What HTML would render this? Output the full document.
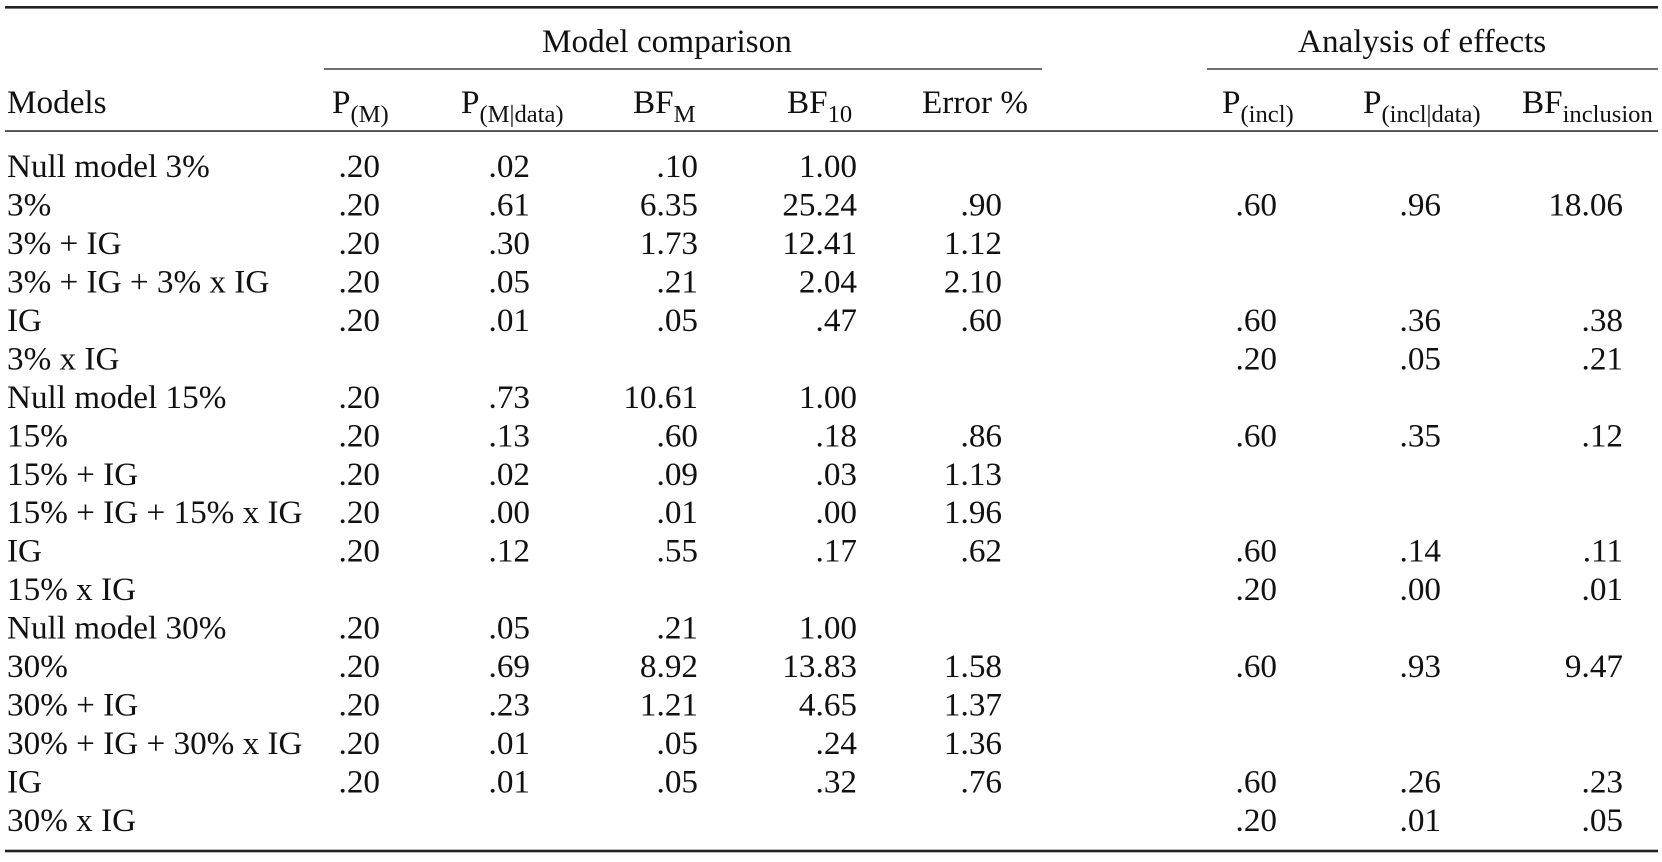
<!DOCTYPE html>
<html><head><meta charset="utf-8"><style>
html,body{margin:0;padding:0;background:#fff;}
svg{display:block;}
text{font-family:"Liberation Serif","Times New Roman",serif;fill:#111;font-size:33.2px;}
.s{font-size:24.6px;}
</style></head><body>
<svg width="1662" height="862" viewBox="0 0 1662 862" xmlns="http://www.w3.org/2000/svg">
<rect x="0" y="0" width="1662" height="862" fill="#fff"/>
<rect x="5" y="6" width="1653" height="2.6" fill="#222"/>
<rect x="324" y="68.3" width="718" height="1.4" fill="#333"/>
<rect x="1207" y="68.3" width="451" height="1.4" fill="#333"/>
<rect x="5" y="130.3" width="1653" height="1.5" fill="#222"/>
<rect x="5" y="849.7" width="1653" height="2.6" fill="#222"/>

<text x="542" y="52">Model comparison</text>
<text x="1298" y="52">Analysis of effects</text>

<text x="7" y="113">Models</text>
<text x="332" y="113">P<tspan class="s" dy="9">(M)</tspan></text>
<text x="461" y="113">P<tspan class="s" dy="9">(M|data)</tspan></text>
<text x="633" y="113">BF<tspan class="s" dy="9">M</tspan></text>
<text x="787" y="113">BF<tspan class="s" dy="9">10</tspan></text>
<text x="922" y="113">Error %</text>
<text x="1222" y="113">P<tspan class="s" dy="9">(incl)</tspan></text>
<text x="1363" y="113">P<tspan class="s" dy="9">(incl|data)</tspan></text>
<text x="1522" y="113">BF<tspan class="s" dy="9">inclusion</tspan></text>

<g>
<text x="7" y="177">Null model 3%</text>
<text x="7" y="215.5">3%</text>
<text x="7" y="253.9">3% + IG</text>
<text x="7" y="292.4">3% + IG + 3% x IG</text>
<text x="7" y="330.9">IG</text>
<text x="7" y="369.4">3% x IG</text>
<text x="7" y="407.8">Null model 15%</text>
<text x="7" y="446.3">15%</text>
<text x="7" y="484.8">15% + IG</text>
<text x="7" y="523.2">15% + IG + 15% x IG</text>
<text x="7" y="561.7">IG</text>
<text x="7" y="600.2">15% x IG</text>
<text x="7" y="638.6">Null model 30%</text>
<text x="7" y="677.1">30%</text>
<text x="7" y="715.6">30% + IG</text>
<text x="7" y="754.0">30% + IG + 30% x IG</text>
<text x="7" y="792.5">IG</text>
<text x="7" y="831">30% x IG</text>
</g>

<g text-anchor="end">
<text x="380" y="177">.20</text>
<text x="380" y="215.5">.20</text>
<text x="380" y="253.9">.20</text>
<text x="380" y="292.4">.20</text>
<text x="380" y="330.9">.20</text>
<text x="380" y="407.8">.20</text>
<text x="380" y="446.3">.20</text>
<text x="380" y="484.8">.20</text>
<text x="380" y="523.2">.20</text>
<text x="380" y="561.7">.20</text>
<text x="380" y="638.6">.20</text>
<text x="380" y="677.1">.20</text>
<text x="380" y="715.6">.20</text>
<text x="380" y="754.0">.20</text>
<text x="380" y="792.5">.20</text>

<text x="530" y="177">.02</text>
<text x="530" y="215.5">.61</text>
<text x="530" y="253.9">.30</text>
<text x="530" y="292.4">.05</text>
<text x="530" y="330.9">.01</text>
<text x="530" y="407.8">.73</text>
<text x="530" y="446.3">.13</text>
<text x="530" y="484.8">.02</text>
<text x="530" y="523.2">.00</text>
<text x="530" y="561.7">.12</text>
<text x="530" y="638.6">.05</text>
<text x="530" y="677.1">.69</text>
<text x="530" y="715.6">.23</text>
<text x="530" y="754.0">.01</text>
<text x="530" y="792.5">.01</text>

<text x="698" y="177">.10</text>
<text x="698" y="215.5">6.35</text>
<text x="698" y="253.9">1.73</text>
<text x="698" y="292.4">.21</text>
<text x="698" y="330.9">.05</text>
<text x="698" y="407.8">10.61</text>
<text x="698" y="446.3">.60</text>
<text x="698" y="484.8">.09</text>
<text x="698" y="523.2">.01</text>
<text x="698" y="561.7">.55</text>
<text x="698" y="638.6">.21</text>
<text x="698" y="677.1">8.92</text>
<text x="698" y="715.6">1.21</text>
<text x="698" y="754.0">.05</text>
<text x="698" y="792.5">.05</text>

<text x="857" y="177">1.00</text>
<text x="857" y="215.5">25.24</text>
<text x="857" y="253.9">12.41</text>
<text x="857" y="292.4">2.04</text>
<text x="857" y="330.9">.47</text>
<text x="857" y="407.8">1.00</text>
<text x="857" y="446.3">.18</text>
<text x="857" y="484.8">.03</text>
<text x="857" y="523.2">.00</text>
<text x="857" y="561.7">.17</text>
<text x="857" y="638.6">1.00</text>
<text x="857" y="677.1">13.83</text>
<text x="857" y="715.6">4.65</text>
<text x="857" y="754.0">.24</text>
<text x="857" y="792.5">.32</text>

<text x="1002" y="215.5">.90</text>
<text x="1002" y="253.9">1.12</text>
<text x="1002" y="292.4">2.10</text>
<text x="1002" y="330.9">.60</text>
<text x="1002" y="446.3">.86</text>
<text x="1002" y="484.8">1.13</text>
<text x="1002" y="523.2">1.96</text>
<text x="1002" y="561.7">.62</text>
<text x="1002" y="677.1">1.58</text>
<text x="1002" y="715.6">1.37</text>
<text x="1002" y="754.0">1.36</text>
<text x="1002" y="792.5">.76</text>

<text x="1277" y="215.5">.60</text>
<text x="1277" y="330.9">.60</text>
<text x="1277" y="369.4">.20</text>
<text x="1277" y="446.3">.60</text>
<text x="1277" y="561.7">.60</text>
<text x="1277" y="600.2">.20</text>
<text x="1277" y="677.1">.60</text>
<text x="1277" y="792.5">.60</text>
<text x="1277" y="831">.20</text>

<text x="1441" y="215.5">.96</text>
<text x="1441" y="330.9">.36</text>
<text x="1441" y="369.4">.05</text>
<text x="1441" y="446.3">.35</text>
<text x="1441" y="561.7">.14</text>
<text x="1441" y="600.2">.00</text>
<text x="1441" y="677.1">.93</text>
<text x="1441" y="792.5">.26</text>
<text x="1441" y="831">.01</text>

<text x="1623" y="215.5">18.06</text>
<text x="1623" y="330.9">.38</text>
<text x="1623" y="369.4">.21</text>
<text x="1623" y="446.3">.12</text>
<text x="1623" y="561.7">.11</text>
<text x="1623" y="600.2">.01</text>
<text x="1623" y="677.1">9.47</text>
<text x="1623" y="792.5">.23</text>
<text x="1623" y="831">.05</text>
</g>
</svg>
</body></html>
